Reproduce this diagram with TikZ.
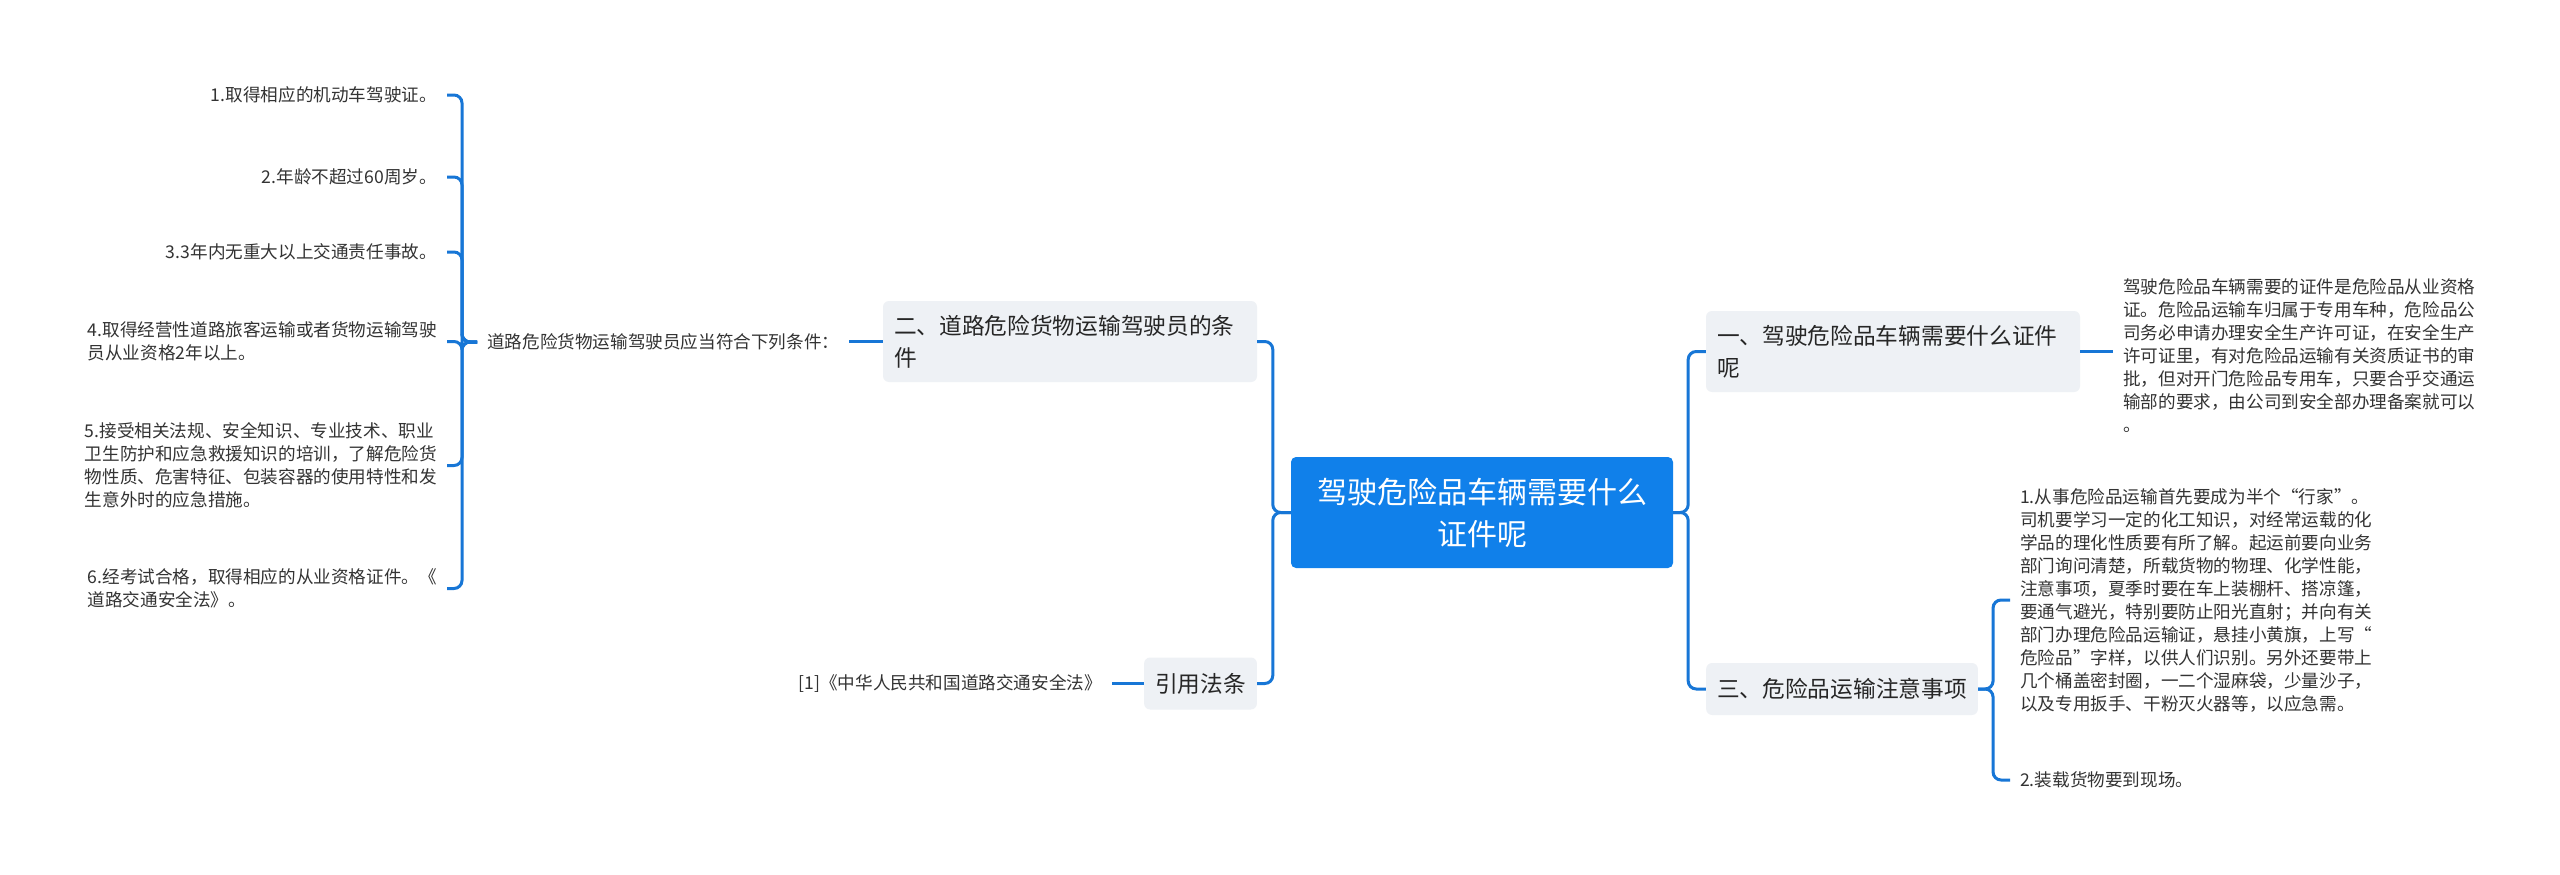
\documentclass[tikz,border=0pt]{standalone}
\usepackage{fontspec}
\newfontfamily\cjk{Noto Sans CJK SC}
\newfontfamily\cjkq[RawFeature=+fwid]{Noto Sans CJK SC}
\newcommand{\myLQ}{{\cjkq “}}
\newcommand{\myRQ}{{\cjkq ”}}
\definecolor{rootblue}{RGB}{16,128,234}
\definecolor{lineblue}{RGB}{23,118,214}
\definecolor{boxgray}{RGB}{238,241,245}
\definecolor{textdark}{RGB}{38,38,38}
\definecolor{leafcol}{RGB}{51,51,51}
\begin{document}
\begin{tikzpicture}[x=1pt,y=-1pt,
  rootbox/.style={fill=rootblue, rounded corners=5pt, text=white, font=\cjk\fontsize{30}{42}\selectfont, align=center, minimum width=382pt, minimum height=111pt, inner sep=0pt},
  branchbox/.style={fill=boxgray, rounded corners=6pt, text=textdark, font=\cjk\fontsize{22.7}{32}\selectfont, align=left, inner xsep=11pt, inner ysep=0pt, minimum height=52pt},
  widebox/.style={branchbox, text width=352pt, minimum height=81pt},
  leaf/.style={text=leafcol, font=\cjk\fontsize{17.6}{23}\selectfont, inner xsep=10pt, inner ysep=2pt, align=left},
  conn/.style={draw=lineblue, line width=3pt, rounded corners=8pt}
]
\useasboundingbox[fill=white] (0,0) rectangle (2560,875);

% main nodes
\node[rootbox] (root) at (1482,512.5) {驾驶危险品车辆需要什么\\证件呢};
\node[widebox] (b2) at (1070,341.5) {二、道路危险货物运输驾驶员的条\\件};
\node[branchbox] (ref) at (1200.5,683.5) {引用法条};
\node[widebox] (b1) at (1893,351.5) {一、驾驶危险品车辆需要什么证件\\呢};
\node[branchbox] (b3) at (1842,689) {三、危险品运输注意事项};

% left side
\node[leaf, anchor=west] (cond) at (477,342) {道路危险货物运输驾驶员应当符合下列条件：};
\node[leaf, anchor=east] (l1) at (447,95) {1.取得相应的机动车驾驶证。};
\node[leaf, anchor=east] (l2) at (447,177) {2.年龄不超过60周岁。};
\node[leaf, anchor=east] (l3) at (447,252) {3.3年内无重大以上交通责任事故。};
\node[leaf, anchor=east] (l4) at (447,341.5) {4.取得经营性道路旅客运输或者货物运输驾驶\\员从业资格2年以上。};
\node[leaf, anchor=east] (l5) at (447,465.5) {5.接受相关法规、安全知识、专业技术、职业\\卫生防护和应急救援知识的培训，了解危险货\\物性质、危害特征、包装容器的使用特性和发\\生意外时的应急措施。};
\node[leaf, anchor=east] (l6) at (447,588.5) {6.经考试合格，取得相应的从业资格证件。《\\道路交通安全法》。};
\node[leaf, anchor=east] (reft) at (1112,683.5) {[1]《中华人民共和国道路交通安全法》};

% right side
\node[leaf, anchor=west] (d1) at (2113,355.5) {驾驶危险品车辆需要的证件是危险品从业资格\\证。危险品运输车归属于专用车种，危险品公\\司务必申请办理安全生产许可证，在安全生产\\许可证里，有对危险品运输有关资质证书的审\\批，但对开门危险品专用车，只要合乎交通运\\输部的要求，由公司到安全部办理备案就可以\\。};
\node[leaf, anchor=west] (r1) at (2010,600) {1.从事危险品运输首先要成为半个\myLQ 行家\myRQ 。\\司机要学习一定的化工知识，对经常运载的化\\学品的理化性质要有所了解。起运前要向业务\\部门询问清楚，所载货物的物理、化学性能，\\注意事项，夏季时要在车上装棚杆、搭凉篷，\\要通气避光，特别要防止阳光直射；并向有关\\部门办理危险品运输证，悬挂小黄旗，上写\myLQ\\危险品\myRQ 字样，以供人们识别。另外还要带上\\几个桶盖密封圈，一二个湿麻袋，少量沙子，\\以及专用扳手、干粉灭火器等，以应急需。};
\node[leaf, anchor=west] (r2) at (2010,780) {2.装载货物要到现场。};

% connectors from root
\draw[conn] (root.west) -- ++(-18,0) |- (b2.east);
\draw[conn] (root.west) -- ++(-18,0) |- (ref.east);
\draw[conn] (root.east) -- ++(15,0) |- (b1.west);
\draw[conn] (root.east) -- ++(15,0) |- (b3.west);

% left
\draw[conn] (b2.west) -- (b2.west -| cond.east);
\draw[conn] (ref.west) -- (ref.west -| reft.east);
\foreach \n in {l1,l2,l3,l4,l5,l6}
  \draw[conn] (cond.west) -- ++(-15,0) |- (\n.east);

% right
\draw[conn] (b1.east) -- (b1.east -| d1.west);
\draw[conn] (b3.east) -- ++(15,0) |- (r1.west);
\draw[conn] (b3.east) -- ++(15,0) |- (r2.west);
\end{tikzpicture}
\end{document}
